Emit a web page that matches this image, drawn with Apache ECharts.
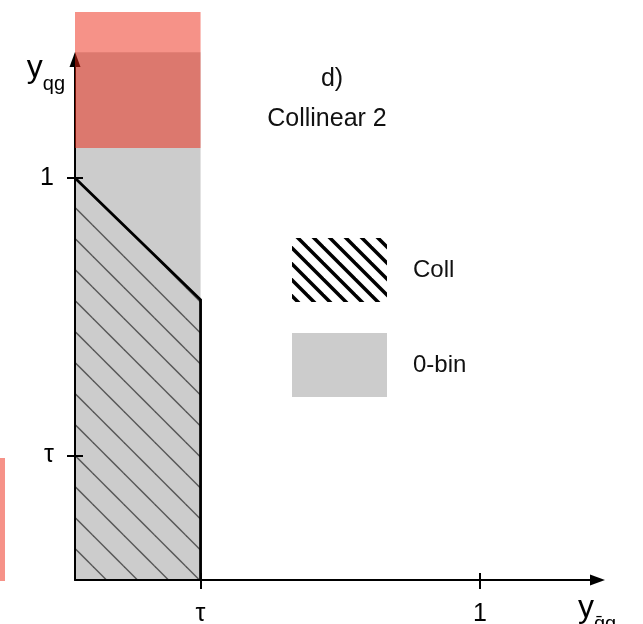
<!DOCTYPE html>
<html>
<head>
<meta charset="utf-8">
<script src="https://cdn.jsdelivr.net/npm/echarts@6/dist/echarts.min.js"></script>
<style>
  html, body { margin: 0; padding: 0; background: #fff; }
  #chart { width: 643px; height: 624px; }
</style>
</head>
<body>
<div id="chart"></div>
<script>
// Region boundaries in (y_qbar_g, y_qg) units
const TAU = 0.31;
const tickValues = [TAU, 1];
const tickLabels = ['τ', '1'];
const zeroBinX = [0, TAU];
const zeroBinY = [0, 1.313];
const collBoundary = [[0, 1], [TAU, 0.697], [TAU, 0]];
const redBandX = [0, TAU];
const redBandY = [1.075, 1.413];
const legendNames = ['Coll', '0-bin'];
const panelTitle = ['d)', 'Collinear 2'];

const FONT = "'Liberation Sans', Arial, Helvetica, sans-serif";
const X_MAX = 1.29;
const Y_MAX = 1.295;

// Diagonal hatch tile (lines running down-right)
function makeHatch(period, width, color, phase) {
  const c = document.createElement('canvas');
  c.width = period; c.height = period;
  const ctx = c.getContext('2d');
  ctx.strokeStyle = color;
  ctx.lineWidth = width;
  for (let k = -2; k <= 2; k++) {
    const off = phase + k * period;
    ctx.beginPath();
    ctx.moveTo(off - period, -period);
    ctx.lineTo(off + 2 * period, 2 * period);
    ctx.stroke();
  }
  return { image: c, repeat: 'repeat' };
}
const thinHatch = makeHatch(31, 1.5, '#585858', 22.5);
const thickHatch = makeHatch(16, 3.5, '#000000', 6);

function tickLabel(v) {
  for (let i = 0; i < tickValues.length; i++) {
    if (Math.abs(v - tickValues[i]) < 1e-6) return tickLabels[i];
  }
  return '';
}

function rectItem(xs, ys, fill) {
  return function (params, api) {
    const p0 = api.coord([xs[0], ys[0]]);
    const p1 = api.coord([xs[1], ys[1]]);
    return {
      type: 'rect',
      shape: {
        x: Math.min(p0[0], p1[0]),
        y: Math.min(p0[1], p1[1]),
        width: Math.abs(p1[0] - p0[0]),
        height: Math.abs(p1[1] - p0[1])
      },
      style: { fill: fill }
    };
  };
}

const chart = echarts.init(document.getElementById('chart'), null, { renderer: 'canvas' });

const axisLineStyle = { color: '#000', width: 2 };

chart.setOption({
  animation: false,
  backgroundColor: '#fff',
  textStyle: { fontFamily: FONT },
  grid: { left: 75, top: 59.5, right: 45.5, bottom: 44, containLabel: false, outerBoundsMode: 'none' },
  xAxis: [
    {
      type: 'value', min: 0, max: X_MAX, z: 4,
      axisLine: { show: true, onZero: false, symbol: ['none', 'triangle'], symbolSize: [11, 15], lineStyle: axisLineStyle },
      axisTick: { show: true, customValues: tickValues, length: 9, lineStyle: axisLineStyle },
      axisLabel: { show: true, customValues: tickValues, formatter: tickLabel, fontSize: 25, color: '#000', margin: 22, fontFamily: FONT },
      splitLine: { show: false },
      name: '{y|y}{s|q\u0304g}',
      nameLocation: 'end',
      nameGap: -19.5,
      nameTextStyle: {
        align: 'left', verticalAlign: 'top', padding: [12, 0, 0, 0],
        rich: {
          y: { fontSize: 32, color: '#000', fontFamily: FONT, verticalAlign: 'bottom', padding: [0, 0, 10, 0] },
          s: { fontSize: 20, color: '#000', fontFamily: FONT, verticalAlign: 'bottom' }
        }
      }
    },
    {
      type: 'value', min: 0, max: X_MAX, z: 4, position: 'bottom',
      axisLine: { show: false },
      axisTick: { show: true, inside: true, customValues: tickValues, length: 7, lineStyle: axisLineStyle },
      axisLabel: { show: false },
      splitLine: { show: false }
    }
  ],
  yAxis: [
    {
      type: 'value', min: 0, max: Y_MAX, z: 4,
      axisLine: { show: true, onZero: false, symbol: ['none', 'triangle'], symbolSize: [11, 15], lineStyle: axisLineStyle },
      axisTick: { show: true, customValues: tickValues, length: 8, lineStyle: axisLineStyle },
      axisLabel: { show: true, customValues: tickValues, formatter: tickLabel, fontSize: 25, color: '#000', margin: 21, fontFamily: FONT },
      splitLine: { show: false },
      name: '{y|y}{s|qg}',
      nameLocation: 'end',
      nameGap: 7,
      nameTextStyle: {
        align: 'right', verticalAlign: 'top', padding: [0, 10, 0, 0],
        rich: {
          y: { fontSize: 32, color: '#000', fontFamily: FONT, verticalAlign: 'bottom', padding: [0, 0, 10, 0] },
          s: { fontSize: 20, color: '#000', fontFamily: FONT, verticalAlign: 'bottom' }
        }
      }
    },
    {
      type: 'value', min: 0, max: Y_MAX, z: 4, position: 'left',
      axisLine: { show: false },
      axisTick: { show: true, inside: true, customValues: tickValues, length: 8, lineStyle: axisLineStyle },
      axisLabel: { show: false },
      splitLine: { show: false }
    }
  ],
  legend: {
    orient: 'vertical',
    left: 292, top: 238, padding: 0,
    itemWidth: 95, itemHeight: 64, itemGap: 31,
    selectedMode: false,
    textStyle: { fontSize: 24, color: '#111', fontFamily: FONT, padding: [0, 0, 0, 21] },
    data: [
      { name: legendNames[0], icon: 'rect', itemStyle: { color: thickHatch, borderWidth: 0 }, lineStyle: { width: 0 } },
      { name: legendNames[1], icon: 'rect', itemStyle: { color: '#cccccc', borderWidth: 0 } }
    ]
  },
  graphic: [
    { type: 'text', x: 332, y: 79, style: { text: panelTitle[0], fontSize: 25, fontFamily: FONT, fill: '#111', align: 'center', verticalAlign: 'middle' } },
    { type: 'text', x: 327, y: 119, style: { text: panelTitle[1], fontSize: 25, fontFamily: FONT, fill: '#111', align: 'center', verticalAlign: 'middle' } },
    { type: 'rect', left: 0, top: 458, z: 20, shape: { width: 5, height: 123 }, style: { fill: 'rgba(237,33,12,0.49)' } }
  ],
  series: [
    {
      name: legendNames[1],
      type: 'custom',
      z: 1,
      clip: false,
      itemStyle: { color: '#cccccc' },
      data: [[zeroBinX[0], zeroBinY[0]]],
      renderItem: rectItem(zeroBinX, zeroBinY, '#cccccc')
    },
    {
      name: legendNames[0],
      type: 'line',
      z: 3,
      symbol: 'none',
      data: collBoundary,
      lineStyle: { color: '#000', width: 2.8, join: 'miter' },
      itemStyle: { color: '#000' },
      areaStyle: { color: thinHatch, opacity: 1, origin: 'start' }
    },
    {
      name: 'cut',
      type: 'custom',
      z: 10,
      clip: false,
      data: [[redBandX[0], redBandY[0]]],
      renderItem: rectItem(redBandX, redBandY, 'rgba(237,33,12,0.49)')
    }
  ]
});
</script>
</body>
</html>
